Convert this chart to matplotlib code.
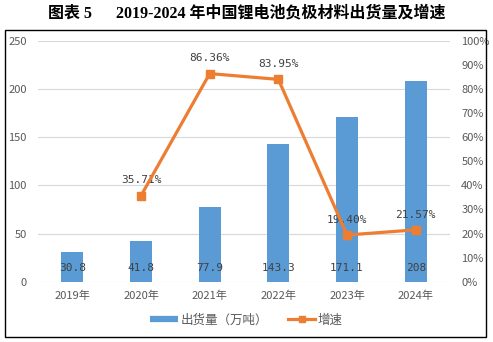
import matplotlib
matplotlib.use("Agg")
import matplotlib.pyplot as plt
from matplotlib.patches import Rectangle
from matplotlib.lines import Line2D
import numpy as np

plt.rcParams['font.family'] = ['Noto Sans CJK SC', 'DejaVu Sans']

years = ["2019年", "2020年", "2021年", "2022年", "2023年", "2024年"]
shipments = [30.8, 41.8, 77.9, 143.3, 171.1, 208]
shipment_labels = ["30.8", "41.8", "77.9", "143.3", "171.1", "208"]
growth = [None, 35.71, 86.36, 83.95, 19.40, 21.57]
growth_labels = ["", "35.71%", "86.36%", "83.95%", "19.40%", "21.57%"]
left_ticks = [0, 50, 100, 150, 200, 250]
right_ticks = [0, 10, 20, 30, 40, 50, 60, 70, 80, 90, 100]

blue = "#5B9BD5"
orange = "#ED7D31"
tick_col = "#595959"

fig = plt.figure(figsize=(4.93, 3.42), dpi=100)
ax = fig.add_axes([0.077, 0.176, 0.836, 0.705])
ax2 = ax.twinx()

x = np.arange(len(years))
ax.bar(x, shipments, width=0.32, color=blue, zorder=2)
ax.set_ylim(0, 250)
ax.set_yticks(left_ticks)
ax.set_xlim(-0.5, len(years) - 0.5)
ax.set_xticks(x)
ax.set_xticklabels(years)
ax.grid(axis='y', color='#D9D9D9', linewidth=0.8, zorder=0)
ax.set_axisbelow(True)
for s in ax.spines.values():
    s.set_visible(False)
for s in ax2.spines.values():
    s.set_visible(False)
ax.tick_params(axis='both', length=0, labelsize=8, colors=tick_col)
ax.tick_params(axis='x', pad=6)
ax.tick_params(axis='y', pad=8)

for xi, lab in zip(x, shipment_labels):
    ax.annotate(lab, xy=(xi, 0), xytext=(0, 10), textcoords='offset points',
                ha='center', va='center', fontsize=8, color='#404040',
                family=['DejaVu Sans Mono'], zorder=3)

gx = [xi for xi, g in zip(x, growth) if g is not None]
gy = [g for g in growth if g is not None]
ax2.plot(gx, gy, color=orange, linewidth=2.3, marker='s', markersize=5.5, zorder=4)
ax2.set_ylim(0, 100)
ax2.set_yticks(right_ticks)
ax2.set_yticklabels([f"{t}%" for t in right_ticks])
ax2.tick_params(axis='y', length=0, labelsize=8, colors=tick_col, pad=8)

for xi, g, lab in zip(x, growth, growth_labels):
    if g is None:
        continue
    ax2.annotate(lab, xy=(xi, g), xytext=(0, 11), textcoords='offset points',
                 ha='center', va='center', fontsize=8, color='#404040',
                 family=['DejaVu Sans Mono'])

handles = [Line2D([0], [0], color=blue, linewidth=4.5, solid_capstyle='butt'),
           Line2D([0], [0], color=orange, linewidth=2.3, marker='s', markersize=5)]
fig.legend(handles, ["出货量（万吨）", "增速"], loc='center', bbox_to_anchor=(0.5, 0.064),
           ncol=2, frameon=False, fontsize=9, handlelength=2.2, columnspacing=1.6,
           handletextpad=0.2, labelcolor=tick_col)

fig.text(0.5, 0.962, "图表 5      2019-2024 年中国锂电池负极材料出货量及增速",
         ha='center', va='center', fontsize=11.5, fontweight='bold',
         family=['Liberation Serif', 'Noto Sans CJK SC'])

fig.patches.append(Rectangle((0.010, 0.015), 0.976, 0.898, transform=fig.transFigure,
                             fill=False, edgecolor='black', linewidth=1.0))

fig.savefig("out.png", dpi=100)
